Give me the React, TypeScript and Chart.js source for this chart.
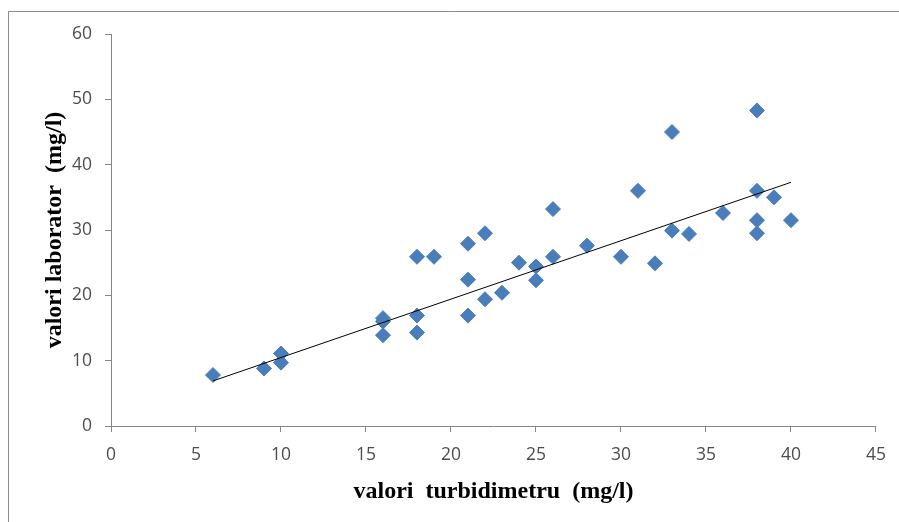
import React, { useEffect, useRef } from "react";
import { Chart, registerables } from "chart.js";

Chart.register(...registerables);

const xValues = [6, 9, 10, 10, 16, 16, 16, 18, 18, 18, 19, 21, 21, 21, 22, 22, 23, 24, 25, 25, 26, 26, 28, 30, 31, 32, 33, 33, 34, 36, 38, 38, 38, 38, 39, 40];
const yValues = [7.8, 8.8, 11.1, 9.7, 16.5, 16, 13.9, 25.9, 16.9, 14.3, 25.9, 27.9, 22.4, 16.9, 29.5, 19.4, 20.4, 25, 24.4, 22.3, 33.2, 25.9, 27.6, 25.9, 36, 24.9, 45, 29.9, 29.4, 32.6, 48.3, 36, 31.5, 29.5, 35, 31.5];
const trendX = [6, 40];
const trendY = [6.9, 37.3];
const xTitle = "valori  turbidimetru  (mg/l)";
const yTitle = "valori laborator  (mg/l)";

const frame = {
  id: "frame",
  beforeDraw(chart: any) {
    const ctx = chart.ctx;
    ctx.save();
    ctx.fillStyle = "#ffffff";
    ctx.fillRect(0, 0, chart.width, chart.height);
    ctx.strokeStyle = "#8c8c8c";
    ctx.lineWidth = 1;
    ctx.beginPath();
    ctx.moveTo(8.5, chart.height);
    ctx.lineTo(8.5, 11.5);
    ctx.lineTo(chart.width, 11.5);
    ctx.stroke();
    ctx.restore();
  },
};

export default function App() {
  const ref = useRef<HTMLCanvasElement>(null);
  useEffect(() => {
    if (!ref.current) return;
    const tickFont = { family: "'Open Sans', sans-serif", size: 17.5 };
    const titleFont = { family: "'Liberation Serif', serif", size: 24, weight: "bold" as const };
    const chart = new Chart(ref.current, {
      type: "scatter",
      data: {
        datasets: [
          {
            data: xValues.map((x, i) => ({ x, y: yValues[i] })),
            pointStyle: "rectRot",
            pointRadius: 7.5,
            backgroundColor: "#4a7ebb",
            borderColor: "#4a7ebb",
            borderWidth: 1,
            order: 2,
          },
          {
            type: "line",
            data: trendX.map((x, i) => ({ x, y: trendY[i] })),
            borderColor: "#000000",
            borderWidth: 1,
            pointRadius: 0,
            fill: false,
            order: 1,
          } as any,
        ],
      },
      options: {
        animation: false,
        responsive: false,
        layout: { padding: { left: 0, top: 34, right: 22, bottom: 0 } },
        plugins: { legend: { display: false }, tooltip: { enabled: false } },
        scales: {
          x: {
            type: "linear",
            min: 0,
            max: 45,
            ticks: { stepSize: 5, color: "#4d4d4d", font: tickFont, padding: 13, maxRotation: 0 },
            grid: { display: true, drawOnChartArea: false, drawTicks: true, tickLength: 6, color: "#868686" },
            border: { display: true, color: "#868686" },
            title: { display: true, text: xTitle, color: "#000000", font: titleFont, padding: { top: 0, bottom: 16 } },
            afterFit: (s: any) => { s.height = 96; },
          },
          y: {
            type: "linear",
            min: 0,
            max: 60,
            ticks: { stepSize: 10, color: "#4d4d4d", font: tickFont, padding: 13 },
            grid: { display: true, drawOnChartArea: false, drawTicks: true, tickLength: 6, color: "#868686" },
            border: { display: true, color: "#868686" },
            title: { display: true, text: yTitle, color: "#000000", font: titleFont, padding: { top: 40, bottom: 0 } },
            afterFit: (s: any) => { s.width = 111; },
          },
        },
      },
      plugins: [frame],
    });
    return () => chart.destroy();
  }, []);
  return (
    <div style={{ position: "fixed", left: 0, top: 0, width: 899, height: 522, overflow: "hidden" }}>
      <canvas ref={ref} width={899} height={522} style={{ display: "block" }} />
    </div>
  );
}
